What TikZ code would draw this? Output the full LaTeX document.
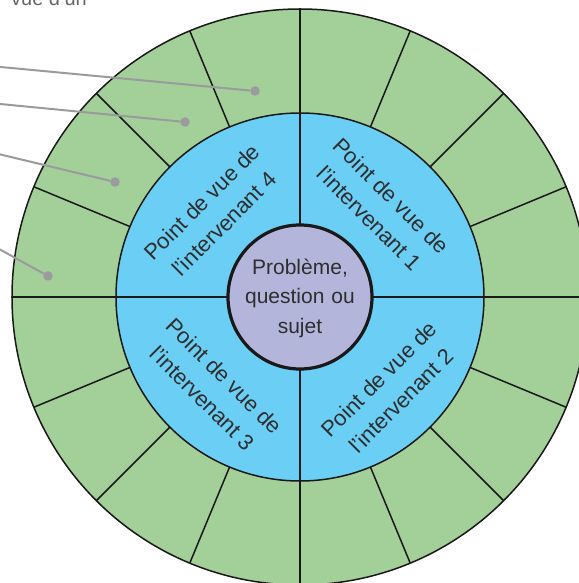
\documentclass[tikz,border=0pt]{standalone}
\usepackage{fontspec}
\setmainfont{Liberation Sans}
\usepackage{tikz}
\tikzset{>=latex}

\definecolor{ringgreen}{HTML}{A3CF99}
\definecolor{ringblue}{HTML}{6ACEF5}
\definecolor{corepurple}{HTML}{B4B5DB}
\definecolor{textgrey}{HTML}{2E2E2E}
\definecolor{callgrey}{HTML}{9B9B9D}

\tikzset{
    divider/.style={line width=1.5bp, draw=black!90},
    viewtext/.style={font=\fontsize{22bp}{31bp}\selectfont, text=textgrey, align=center},
    coretext/.style={font=\fontsize{21bp}{29.5bp}\selectfont, text=textgrey, align=center},
    calldot/.style={circle, fill=callgrey, inner sep=0pt, minimum size=9.5bp},
    callline/.style={draw=callgrey, line width=2bp}
}

\begin{document}
\begin{tikzpicture}[x=1bp, y=1bp]
        \useasboundingbox (-300,-286) rectangle (279,297);

        \fill [ringgreen] (0,0) circle (288);
        \fill [ringblue] (0,0) circle (184);

        \draw [divider] (22.5:184)--(22.5:288);
        \draw [divider] (45:184)--(45:288);
        \draw [divider] (67.5:184)--(67.5:288);
        \draw [divider] (112.5:184)--(112.5:288);
        \draw [divider] (135:184)--(135:288);
        \draw [divider] (157.5:184)--(157.5:288);
        \draw [divider] (202.5:184)--(202.5:288);
        \draw [divider] (225:184)--(225:288);
        \draw [divider] (247.5:184)--(247.5:288);
        \draw [divider] (292.5:184)--(292.5:288);
        \draw [divider] (315:184)--(315:288);
        \draw [divider] (337.5:184)--(337.5:288);
        \draw [divider] (180:288)--(0:288);
        \draw [divider] (270:288)--(90:288);

        \draw [divider] (0,0) circle (184);
        \draw [divider] (0,0) circle (288);

        \draw [line width=3.2bp, draw=black!90, fill=corepurple] (0,0) circle (72);
        \node [coretext, text width=130bp] (Problem) at (0,-1) {Problème,\\question ou\\sujet};

        \node [viewtext, rotate=-45] (View1) at (80,90) {Point de vue de\\l’intervenant 1};
        \node [viewtext, rotate=45] (View2) at (90,-93) {Point de vue de\\l’intervenant 2};
        \node [viewtext, rotate=-45] (View3) at (-87,-90) {Point de vue de\\l’intervenant 3};
        \node [viewtext, rotate=45] (View4) at (-87,84) {Point de vue de\\l’intervenant 4};

        \node [calldot] (Dot1) at (-45,206) {};
        \node [calldot] (Dot2) at (-115,175) {};
        \node [calldot] (Dot3) at (-185,115) {};
        \node [calldot] (Dot4) at (-252,21) {};

        \coordinate (Call1) at (-310,231);
        \coordinate (Call2) at (-310,194);
        \coordinate (Call3) at (-310,145);
        \coordinate (Call4) at (-310,53);

        \draw [callline] (Call1)--(Dot1);
        \draw [callline] (Call2)--(Dot2);
        \draw [callline] (Call3)--(Dot3);
        \draw [callline] (Call4)--(Dot4);

        \node [anchor=base east, font=\fontsize{20bp}{28bp}\selectfont, text=black!60, inner sep=0pt]
            (Caption) at (-213,291) {vue d’un};
    \end{tikzpicture}
\end{document}
